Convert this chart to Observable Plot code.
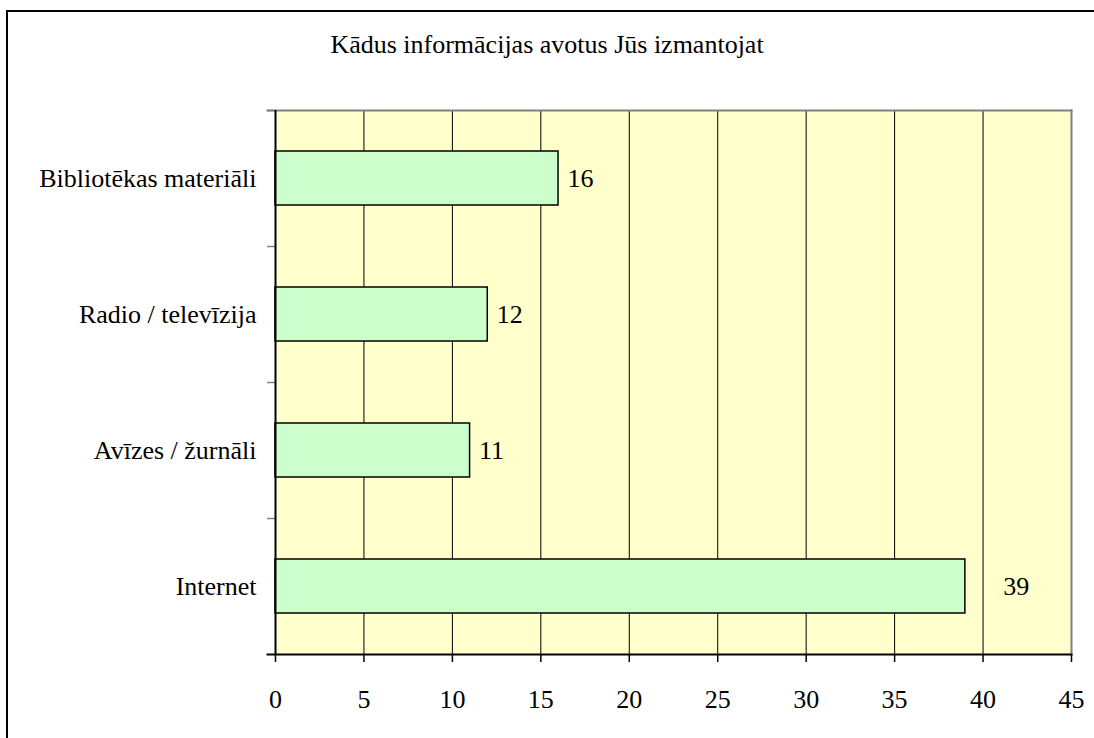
<!DOCTYPE html>
<html><head><meta charset="utf-8">
<script src="https://cdn.jsdelivr.net/npm/d3@7"></script>
<script src="https://cdn.jsdelivr.net/npm/@observablehq/plot@0.6"></script>
<style>
html,body{margin:0;padding:0;background:#fff;}
body{width:1094px;height:738px;overflow:hidden;position:relative;font-family:'Liberation Serif','Times New Roman',Tinos,'Nimbus Roman','DejaVu Serif',serif;color:#000;}
#border{position:absolute;left:6px;top:10px;width:1200px;height:800px;border-left:2px solid #000;border-top:2px solid #000;box-sizing:border-box;}
#title{position:absolute;left:0;top:30px;width:1094px;text-align:center;font-size:26px;line-height:30px;}
#chart{position:absolute;left:0;top:0;}
#chart svg text{font-family:'Liberation Serif','Times New Roman',Tinos,'Nimbus Roman','DejaVu Serif',serif;}
</style>
</head><body>
<div id="border"></div>
<div id="title">Kādus informācijas avotus Jūs izmantojat</div>
<div id="chart"></div>
<script>
const categories = ["Bibliotēkas materiāli", "Radio / televīzija", "Avīzes / žurnāli", "Internet"];
const values = [16, 12, 11, 39];
const xTicks = [0, 5, 10, 15, 20, 25, 30, 35, 40, 45];

const data = categories.map((c, i) => ({category: c, value: values[i]}));
const maxV = d3.max(values);

const W = 1094, H = 738;
const mTop = 110, mBottom = 84, mLeft = 275, mRight = 23;
const step = (H - mTop - mBottom) / categories.length;
const serif = "'Liberation Serif','Times New Roman',Tinos,'Nimbus Roman','DejaVu Serif',serif";

const chart = Plot.plot({
  width: W,
  height: H,
  marginTop: mTop,
  marginBottom: mBottom,
  marginLeft: mLeft,
  marginRight: mRight,
  style: {fontFamily: serif, fontSize: "26px", background: "transparent", color: "#000", overflow: "visible"},
  x: {domain: [0, 45]},
  y: {domain: categories, paddingInner: 0.6, paddingOuter: 0.3, align: 0.5},
  marks: [
    Plot.frame({fill: "#FFFFCC", stroke: null}),
    Plot.ruleX(xTicks.filter(t => t > 0 && t < 45), {stroke: "#000", strokeWidth: 1}),
    Plot.frame({anchor: "top", stroke: "#808080", strokeWidth: 2, insetLeft: -8}),
    Plot.frame({anchor: "right", stroke: "#808080", strokeWidth: 2}),
    Plot.barX(data, {x: "value", y: "category", fill: "#CCFFCC", stroke: "#000", strokeWidth: 1.5}),
    Plot.text(data, {filter: d => d.value !== maxV, x: "value", y: "category", text: d => String(d.value), textAnchor: "start", dx: 9, fontSize: 26}),
    Plot.text(data, {filter: d => d.value === maxV, x: "value", y: "category", text: d => String(d.value), textAnchor: "start", dx: 38, fontSize: 26}),
    Plot.ruleY(categories, {y: d => d, dy: -step / 2, x1: 0, x2: 0, insetLeft: -8, stroke: "#808080", strokeWidth: 1.5}),
    Plot.ruleX([0], {stroke: "#000", strokeWidth: 2}),
    Plot.frame({anchor: "bottom", stroke: "#000", strokeWidth: 2, insetLeft: -8}),
    Plot.axisX(xTicks, {tickSize: 8, tickPadding: 27, fontSize: 26, stroke: "#000", strokeWidth: 1.5, label: null}),
    Plot.axisY({tickSize: 0, tickPadding: 19, fontSize: 26, label: null})
  ]
});
document.getElementById("chart").appendChild(chart);
</script>
</body></html>
